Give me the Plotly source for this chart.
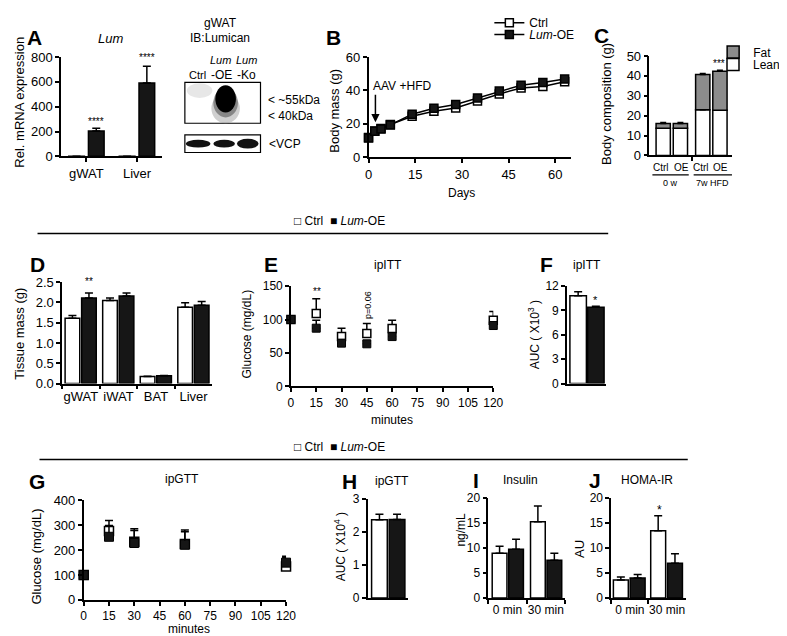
import plotly.graph_objects as go

W, H = 787, 636
FONT = "Arial, Liberation Sans, sans-serif"

# ---------------- data ----------------
# A  Lum mRNA
a_tissues = ["gWAT", "Liver"]
a_ctrl = [1, 1]
a_oe = [205, 590]
a_oe_err = [22, 135]

# B  body mass
b_days = [0, 2, 4, 7, 14, 21, 28, 35, 42, 49, 56, 63]
b_ctrl = [11.8, 15.8, 17.2, 19.6, 24.6, 27.6, 29.5, 33.6, 37.9, 41.4, 42.3, 45.2]
b_ctrl_err = [0.6, 0.6, 0.6, 0.7, 0.8, 0.9, 1.0, 1.0, 1.1, 1.1, 1.2, 1.2]
b_oe = [11.6, 15.6, 17.0, 19.4, 25.8, 29.3, 31.6, 35.5, 39.6, 43.1, 44.7, 46.8]
b_oe_err = [0.6, 0.6, 0.6, 0.7, 0.8, 0.9, 1.0, 1.0, 1.1, 1.1, 1.2, 1.2]

# C  body composition
c_groups = ["0 w", "7w HFD"]
c_genotypes = ["Ctrl", "OE", "Ctrl", "OE"]
c_lean = [13.6, 13.6, 23.0, 22.7]
c_lean_err = [0.5, 0.5, 0.6, 0.6]
c_fat = [2.5, 2.5, 17.7, 19.6]
c_fat_err = [0.4, 0.4, 0.5, 0.5]

# D  tissue mass
d_tissues = ["gWAT", "iWAT", "BAT", "Liver"]
d_ctrl = [1.61, 2.05, 0.17, 1.88]
d_ctrl_err = [0.07, 0.06, 0.01, 0.11]
d_oe = [2.11, 2.16, 0.19, 1.93]
d_oe_err = [0.12, 0.07, 0.01, 0.09]

# E  ipITT
e_minutes = [0, 15, 30, 45, 60, 120]
e_ctrl = [100, 109, 74.5, 79, 86.7, 99]
e_ctrl_err = [2, 22, 12.5, 15, 12, 13]
e_oe = [100, 87, 64.7, 63.7, 74.5, 91]
e_oe_err = [2, 12, 5, 4, 5, 5]

# F  ipITT AUC
f_ctrl = [10.8]
f_ctrl_err = [0.5]
f_oe = [9.4]
f_oe_err = [0.12]

# G  ipGTT
g_minutes = [0, 15, 30, 60, 120]
g_ctrl = [100, 277, 234, 225, 134]
g_ctrl_err = [4, 43, 52, 56, 42]
g_oe = [100, 254, 229, 222, 150]
g_oe_err = [4, 45, 50, 52, 20]

# H  ipGTT AUC
h_ctrl = [2.36]
h_ctrl_err = [0.17]
h_oe = [2.37]
h_oe_err = [0.16]

# I  insulin, J HOMA-IR
ij_times = ["0 min", "30 min"]
i_ctrl = [8.9, 15.2]
i_ctrl_err = [1.4, 3.1]
i_oe = [9.7, 7.5]
i_oe_err = [2.0, 1.4]
j_ctrl = [3.6, 13.4]
j_ctrl_err = [0.6, 3.0]
j_oe = [4.0, 6.9]
j_oe_err = [0.7, 1.9]

WHITE = "white"
BLACK = "#161616"
GREY = "#8c8c8c"

fig = go.Figure()
axes_layout = {}


def make_axes(i, x0, x1, ytop, ybot, xa=None, ya=None):
    s = "" if i == 1 else str(i)
    base = dict(showline=True, linecolor="black", linewidth=1.5, ticks="outside",
                ticklen=4, tickwidth=1.5, tickcolor="black", showgrid=False,
                zeroline=False, fixedrange=True, tickangle=0,
                tickfont=dict(family=FONT, size=12, color="black"))
    xd = dict(base)
    xd.update(domain=[x0 / W, x1 / W], anchor="y" + s)
    xd.update(xa or {})
    yd = dict(base)
    yd.update(domain=[1 - ybot / H, 1 - ytop / H], anchor="x" + s)
    yd.update(ya or {})
    axes_layout["xaxis" + s] = xd
    axes_layout["yaxis" + s] = yd
    return "x" + s, "y" + s


def err(vals, thick=1.5, w=4):
    return dict(type="data", symmetric=False, array=vals, arrayminus=[0] * len(vals),
                color="black", thickness=thick, width=w)


def bar(x, y, e, fill, ax, offset, width):
    xr, yr = ax
    fig.add_trace(go.Bar(
        x=x, y=y, error_y=err(e), offset=offset, width=width,
        marker=dict(color=fill, line=dict(color="black", width=1.5)),
        xaxis=xr, yaxis=yr, showlegend=False))


# ---------------- panel A ----------------
axA = make_axes(1, 50, 153, 42, 144,
                xa=dict(type="category", range=[-0.5, 1.5], tickfont=dict(family=FONT, size=13)),
                ya=dict(range=[0, 800], tickvals=[0, 200, 400, 600, 800],
                        tickfont=dict(family=FONT, size=13)))
bar(a_tissues, a_ctrl, [0, 0], WHITE, axA, -0.35, 0.31)
bar(a_tissues, a_oe, a_oe_err, BLACK, axA, 0.04, 0.31)

# ---------------- panel B ----------------
axB = make_axes(2, 363, 569, 42, 145,
                xa=dict(range=[0, 65], tickvals=[0, 15, 30, 45, 60],
                        tickfont=dict(family=FONT, size=13)),
                ya=dict(range=[0, 60], tickvals=[0, 20, 40, 60],
                        tickfont=dict(family=FONT, size=13)))
fig.add_trace(go.Scatter(x=b_days, y=b_ctrl, mode="lines+markers", name="Ctrl",
                         line=dict(color="black", width=1.5),
                         marker=dict(symbol="square", size=8, color="white",
                                     line=dict(color="black", width=1.5)),
                         error_y=err(b_ctrl_err, 1.2, 3), cliponaxis=False,
                         xaxis=axB[0], yaxis=axB[1], legend="legend"))
fig.add_trace(go.Scatter(x=b_days, y=b_oe, mode="lines+markers", name="<i>Lum</i>-OE",
                         line=dict(color="black", width=1.5),
                         marker=dict(symbol="square", size=8, color=BLACK,
                                     line=dict(color="black", width=1.5)),
                         error_y=err(b_oe_err, 1.2, 3), cliponaxis=False,
                         xaxis=axB[0], yaxis=axB[1], legend="legend3"))

# ---------------- panel C ----------------
GROUP_STEP = 2.3
c_x = [(k // 2) * GROUP_STEP + (k % 2) for k in range(len(c_genotypes))]
c_tick = (1 + GROUP_STEP) / 2
axC = make_axes(3, 649, 733, 41, 143,
                xa=dict(range=[-0.8, 4.0], tickvals=[c_tick], ticktext=[""]),
                ya=dict(range=[0, 50], tickvals=[0, 10, 20, 30, 40, 50],
                        tickfont=dict(family=FONT, size=13)))
fig.add_trace(go.Bar(x=c_x, y=c_lean, width=0.83, name="Lean",
                     marker=dict(color="white", line=dict(color="black", width=1.5)),
                     error_y=err(c_lean_err, 1.5, 3), xaxis=axC[0], yaxis=axC[1],
                     legend="legend4"))
fig.add_trace(go.Bar(x=c_x, y=c_fat, base=c_lean, width=0.83, name="Fat",
                     marker=dict(color=GREY, line=dict(color="black", width=1.5)),
                     error_y=err(c_fat_err, 1.5, 3), xaxis=axC[0], yaxis=axC[1],
                     legend="legend2"))

# ---------------- panel D ----------------
axD = make_axes(4, 51, 204, 273, 377,
                xa=dict(type="category", range=[-0.5, 3.5], tickson="boundaries",
                        tickfont=dict(family=FONT, size=13)),
                ya=dict(range=[0, 2.5], tickvals=[0, 0.5, 1.0, 1.5, 2.0, 2.5],
                        tickformat=".1f", tickfont=dict(family=FONT, size=13)))
bar(d_tissues, d_ctrl, d_ctrl_err, WHITE, axD, -0.42, 0.39)
bar(d_tissues, d_oe, d_oe_err, BLACK, axD, 0.02, 0.39)

# ---------------- panel E ----------------
axE = make_axes(5, 284, 490, 277, 380,
                xa=dict(range=[0, 120], tickvals=list(range(0, 121, 15))),
                ya=dict(range=[0, 150], tickvals=[0, 50, 100, 150]))
fig.add_trace(go.Scatter(x=e_minutes, y=e_ctrl, mode="markers", name="Ctrl",
                         marker=dict(symbol="square", size=8, color="white",
                                     line=dict(color="black", width=1.5)),
                         error_y=err(e_ctrl_err, 1.5, 4), cliponaxis=False,
                         xaxis=axE[0], yaxis=axE[1], showlegend=False))
fig.add_trace(go.Scatter(x=e_minutes, y=e_oe, mode="markers", name="Lum-OE",
                         marker=dict(symbol="square", size=8, color=BLACK,
                                     line=dict(color="black", width=1)),
                         error_y=err(e_oe_err, 1.5, 4), cliponaxis=False,
                         xaxis=axE[0], yaxis=axE[1], showlegend=False))

# ---------------- panel F ----------------
axF = make_axes(6, 565, 605, 277, 377,
                xa=dict(type="category", range=[-0.5, 0.5], ticks="", showticklabels=False),
                ya=dict(range=[0, 12], tickvals=[0, 3, 6, 9, 12]))
bar(["ipITT"], f_ctrl, f_ctrl_err, WHITE, axF, -0.425, 0.42)
bar(["ipITT"], f_oe, f_oe_err, BLACK, axF, 0.025, 0.42)

# ---------------- panel G ----------------
axG = make_axes(7, 73, 279, 497, 599,
                xa=dict(range=[0, 120], tickvals=list(range(0, 121, 15)),
                        tickfont=dict(family=FONT, size=12)),
                ya=dict(range=[0, 400], tickvals=[0, 100, 200, 300, 400],
                        tickfont=dict(family=FONT, size=13)))
fig.add_trace(go.Scatter(x=g_minutes, y=g_ctrl, mode="markers", name="Ctrl",
                         marker=dict(symbol="square", size=9, color="white",
                                     line=dict(color="black", width=1.5)),
                         error_y=err(g_ctrl_err, 1.5, 4), cliponaxis=False,
                         xaxis=axG[0], yaxis=axG[1], showlegend=False))
fig.add_trace(go.Scatter(x=g_minutes, y=g_oe, mode="markers", name="Lum-OE",
                         marker=dict(symbol="square", size=9, color=BLACK,
                                     line=dict(color="black", width=1)),
                         error_y=err(g_oe_err, 1.5, 4), cliponaxis=False,
                         xaxis=axG[0], yaxis=axG[1], showlegend=False))

# ---------------- panel H ----------------
axH = make_axes(8, 362, 403, 495, 597,
                xa=dict(type="category", range=[-0.5, 0.5], ticks="", showticklabels=False),
                ya=dict(range=[0, 3], tickvals=[0, 1, 2, 3]))
bar(["ipGTT"], h_ctrl, h_ctrl_err, WHITE, axH, -0.4, 0.39)
bar(["ipGTT"], h_oe, h_oe_err, BLACK, axH, 0.037, 0.39)

# ---------------- panel I ----------------
axI = make_axes(9, 485, 563, 494, 597,
                xa=dict(type="category", range=[-0.5, 1.5], tickson="boundaries"),
                ya=dict(range=[0, 20], tickvals=[0, 5, 10, 15, 20]))
bar(ij_times, i_ctrl, i_ctrl_err, WHITE, axI, -0.4, 0.385)
bar(ij_times, i_oe, i_oe_err, BLACK, axI, 0.03, 0.385)

# ---------------- panel J ----------------
axJ = make_axes(10, 610, 686, 494, 597,
                xa=dict(type="category", range=[-0.5, 1.5], tickson="boundaries"),
                ya=dict(range=[0, 20], tickvals=[0, 5, 10, 15, 20]))
bar(ij_times, j_ctrl, j_ctrl_err, WHITE, axJ, -0.44, 0.40)
bar(ij_times, j_oe, j_oe_err, BLACK, axJ, 0.01, 0.40)

# ---------------- annotations ----------------
anns = []


def ann(text, x, y, size=12, xanchor="center", angle=0, bold=False, italic=False, color="black"):
    if bold:
        text = "<b>" + text + "</b>"
    if italic:
        text = "<i>" + text + "</i>"
    anns.append(dict(text=text, x=x / W, y=1 - y / H, xref="paper", yref="paper",
                     showarrow=False, xanchor=xanchor, yanchor="middle", textangle=angle,
                     font=dict(family=FONT, size=size, color=color)))


# panel letters
for letter, lx, ly in [("A", 23, 22), ("B", 327, 22), ("C", 600, 20), ("D", 26, 255),
                       ("E", 264, 255), ("F", 544, 255), ("G", 25, 477), ("H", 344, 477),
                       ("I", 472, 476), ("J", 594, 476)]:
    ann(letter, lx, ly, size=21, bold=True)

# A
ann("Lum", 100, 23, 13, italic=True)
ann("Rel. mRNA expression", 8, 88, 13, angle=-90)
ann("****", 86, 108, 10)
ann("****", 137, 43, 10)
# blot texts
ann("gWAT", 212, 7, 12)
ann("IB:Lumican", 212, 23, 12)
ann("Lum", 212, 45, 11, italic=True)
ann("Lum", 239, 45, 11, italic=True)
ann("Ctrl", 189, 61, 11)
ann("-OE", 213, 61, 12)
ann("-Ko", 239, 61, 12)
ann("< ~55kDa", 259, 86, 12, xanchor="left")
ann("< 40kDa", 259, 103, 12, xanchor="left")
ann("<VCP", 260, 131, 12, xanchor="left")

# B
ann("Body mass (g)", 328, 97, 13, angle=-90)
ann("Days", 458, 182, 12)
ann("AAV +HFD", 366, 72, 12, xanchor="left")
anns.append(dict(text="", x=370 / W, y=1 - 109 / H, xref="paper", yref="paper",
                 showarrow=True, ax=0, ay=-29, arrowhead=2, arrowsize=1.1,
                 arrowwidth=1.5, arrowcolor="black"))

# C
ann("Body composition (g)", 605, 90, 13, angle=-90)
for gx, gt in zip(c_x, c_genotypes):
    anns.append(dict(text=gt, x=gx, y=1 - 155 / H, xref=axC[0], yref="paper",
                     showarrow=False, yanchor="middle", xshift=-2 if gt == "Ctrl" else 1,
                     font=dict(family=FONT, size=10, color="black")))
ann("0 w", 670, 171, 9)
ann("7w HFD", 713, 171, 9)
ann("***", 720, 49, 10)

# D
ann("Tissue mass (g)", 8, 326, 13, angle=-90)
ann("**", 78, 272, 10)

# E
ann("ipITT", 383, 255, 12)
ann("Glucose (mg/dL)", 239, 326, 12, angle=-90)
ann("minutes", 387, 414, 12)
ann("**", 311, 283, 10)
ann("p=0.06", 362, 297, 9, angle=-90)

# F
ann("ipITT", 585, 255, 12)
ann("AUC ( X10<sup>3</sup> )", 531, 327, 12, angle=-90)
ann("*", 594, 291, 11)

# legends row 1 & 2
ann("\u25a1 Ctrl  \u25a0 <i>Lum</i>-OE", 285, 210, 12, xanchor="left")
ann("\u25a1 Ctrl  \u25a0 <i>Lum</i>-OE", 285, 442, 12, xanchor="left")

# G
ann("ipGTT", 173, 475, 12)
ann("Glucose (mg/dL)", 24, 555, 13, angle=-90)
ann("minutes", 180, 629, 12)

# H
ann("ipGTT", 387, 477, 12)
ann("AUC ( X10<sup>4</sup> )", 334, 545, 12, angle=-90)

# I
ann("Insulin", 518, 476, 12)
ann("ng/mL", 457, 527, 12, angle=-90)

# J
ann("HOMA-IR", 647, 476, 12)
ann("AU", 578, 547, 13, angle=-90)
ann("*", 659, 507, 12)

# ---------------- shapes ----------------
shapes = []


def pline(x0, y0, x1, y1, w=1.5):
    shapes.append(dict(type="line", xref="paper", yref="paper", x0=x0 / W, x1=x1 / W,
                       y0=1 - y0 / H, y1=1 - y1 / H, line=dict(color="black", width=w)))


def prect(x0, y0, x1, y1, fill="white", lw=1.2):
    shapes.append(dict(type="rect", xref="paper", yref="paper", x0=x0 / W, x1=x1 / W,
                       y0=1 - y1 / H, y1=1 - y0 / H, fillcolor=fill,
                       line=dict(color="black", width=lw)))


def pblob(x0, y0, x1, y1, fill, opacity=1.0):
    shapes.append(dict(type="circle", xref="paper", yref="paper", x0=x0 / W, x1=x1 / W,
                       y0=1 - y1 / H, y1=1 - y0 / H, fillcolor=fill, opacity=opacity,
                       line=dict(width=0)))


pline(26, 223, 607, 223)
pline(28, 455, 688, 455)
pline(652, 163, 689, 163, 1.2)
pline(694, 163, 733, 163, 1.2)

# western blot drawing
prect(176, 68, 253, 110)
pblob(178, 69, 204, 84, "#e4e4e4", 0.9)
pblob(203, 80, 232, 110, "#a0a0a0", 0.5)
pblob(205, 74, 230, 104, "#555555", 0.6)
pblob(207, 71, 228, 99, "#000000")
prect(176, 122, 253, 140)
pblob(177, 127, 202, 135, "#111111")
pblob(205, 127, 227, 135, "#111111")
pblob(229, 126, 251, 136, "#111111")

LEG = dict(xanchor="left", yanchor="top", bgcolor="rgba(0,0,0,0)",
           font=dict(family=FONT, size=12), itemwidth=30, tracegroupgap=0)

fig.update_layout(
    width=W, height=H, autosize=False,
    margin=dict(l=0, r=0, t=0, b=0),
    plot_bgcolor="white", paper_bgcolor="white",
    barmode="overlay",
    font=dict(family=FONT, size=12, color="black"),
    annotations=anns, shapes=shapes,
    legend=dict(LEG, x=486 / W, y=1 + 8 / H),
    legend3=dict(LEG, x=486 / W, y=1 - 4 / H),
    legend2=dict(LEG, x=1 - 8 / W, y=1 - 22 / H, xanchor="right"),
    legend4=dict(LEG, x=1.0, y=1 - 35 / H, xanchor="right"),
    **axes_layout,
)

fig.write_html("out.html")
